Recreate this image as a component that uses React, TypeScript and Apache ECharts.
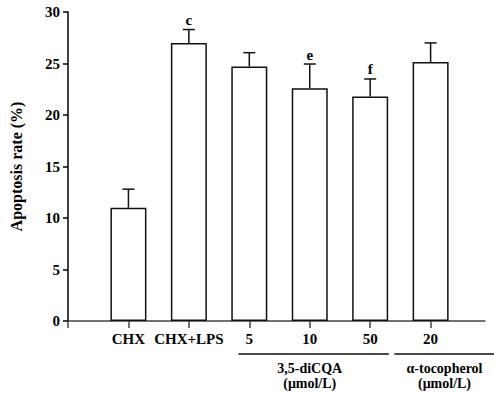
import React, { useEffect, useRef } from "react";
import * as echarts from "echarts";

const categories = ["CHX", "CHX+LPS", "5", "10", "50", "20"];
const positions = [1, 2, 3, 4, 5, 6];
const means = [11.0, 27.0, 24.7, 22.6, 21.8, 25.15];
const errors = [1.8, 1.3, 1.35, 2.35, 1.7, 1.85];
const marks = ["", "c", "", "e", "f", ""];
const yTicks = [0, 5, 10, 15, 20, 25, 30];
const groupNames = ["3,5-diCQA\n(μmol/L)", "α-tocopherol\n(μmol/L)"];
const groupSpans = [
  [2.82, 5.31, 4.0],
  [5.4, 7.2, 6.23],
];

const FONT = "Liberation Serif";

export default function App() {
  const ref = useRef<HTMLDivElement>(null);
  useEffect(() => {
    document.body.style.margin = "0";
    if (!ref.current) return;
    const chart = echarts.init(ref.current, null, { renderer: "svg" });
    const barData = positions.map((p, i) => [p, means[i]]);
    const errData = positions.map((p, i) => [p, means[i], means[i] + errors[i], i]);
    const groupData = groupSpans.map((g, i) => [g[0], g[1], g[2], i]);
    chart.setOption({
      animation: false,
      backgroundColor: "#ffffff",
      textStyle: { fontFamily: FONT },
      grid: { left: 57, right: 9, top: 12, bottom: 73 },
      xAxis: {
        type: "value",
        min: 0,
        max: 6.9,
        interval: 1,
        splitLine: { show: false },
        axisLine: { show: true, onZero: false, lineStyle: { color: "#444", width: 1.5 } },
        axisTick: {
          show: true,
          customValues: [0, ...positions],
          length: 7,
          lineStyle: { color: "#444", width: 1.5 },
        },
        axisLabel: {
          customValues: positions,
          formatter: (v: number) => categories[positions.indexOf(Math.round(v))] ?? "",
          color: "#000",
          fontFamily: FONT,
          fontWeight: "bold",
          fontSize: 15,
          margin: 10,
        },
      },
      yAxis: {
        type: "value",
        min: yTicks[0],
        max: yTicks[yTicks.length - 1],
        interval: 5,
        name: "Apoptosis rate (%)",
        nameLocation: "middle",
        nameGap: 44,
        nameTextStyle: { color: "#000", fontFamily: FONT, fontWeight: "bold", fontSize: 16 },
        splitLine: { show: false },
        axisLine: { show: true, lineStyle: { color: "#000", width: 1.5 } },
        axisTick: { show: true, length: 5, lineStyle: { color: "#000", width: 1.5 } },
        axisLabel: {
          color: "#000",
          fontFamily: FONT,
          fontWeight: "bold",
          fontSize: 15,
          margin: 8,
        },
      },
      series: [
        {
          type: "bar",
          data: barData,
          barWidth: 36,
          itemStyle: { color: "#ffffff", borderColor: "#111", borderWidth: 1.5 },
          z: 2,
        },
        {
          type: "custom",
          data: errData,
          z: 3,
          renderItem: (params: any, api: any) => {
            const x = api.value(0);
            const top = api.coord([x, api.value(2)]);
            const base = api.coord([x, api.value(1)]);
            const idx = api.value(3);
            const children: any[] = [
              {
                type: "line",
                shape: { x1: top[0], y1: base[1], x2: top[0], y2: top[1] },
                style: { stroke: "#111", lineWidth: 1.5 },
              },
              {
                type: "line",
                shape: { x1: top[0] - 6, y1: top[1], x2: top[0] + 6, y2: top[1] },
                style: { stroke: "#111", lineWidth: 1.5 },
              },
            ];
            const m = marks[idx];
            if (m) {
              children.push({
                type: "text",
                x: top[0],
                y: top[1] - 2,
                style: {
                  text: m,
                  fill: "#000",
                  fontFamily: FONT,
                  fontWeight: "bold",
                  fontSize: 15,
                  align: "center",
                  verticalAlign: "bottom",
                },
              });
            }
            return { type: "group", children };
          },
        },
        {
          type: "custom",
          data: groupData,
          clip: false,
          z: 3,
          renderItem: (params: any, api: any) => {
            const p0 = api.coord([api.value(0), 0]);
            const p1 = api.coord([api.value(1), 0]);
            const pc = api.coord([api.value(2), 0]);
            const idx = api.value(3);
            return {
              type: "group",
              children: [
                {
                  type: "line",
                  shape: { x1: p0[0], y1: p0[1] + 33, x2: p1[0], y2: p1[1] + 33 },
                  style: { stroke: "#111", lineWidth: 1.5 },
                },
                {
                  type: "text",
                  x: pc[0],
                  y: pc[1] + 40,
                  style: {
                    text: groupNames[idx],
                    fill: "#000",
                    fontFamily: FONT,
                    fontWeight: "bold",
                    fontSize: 14,
                    align: "center",
                    verticalAlign: "top",
                    lineHeight: 15,
                  },
                },
              ],
            };
          },
        },
      ],
    });
    return () => chart.dispose();
  }, []);
  return <div ref={ref} style={{ width: 494, height: 394 }} />;
}
